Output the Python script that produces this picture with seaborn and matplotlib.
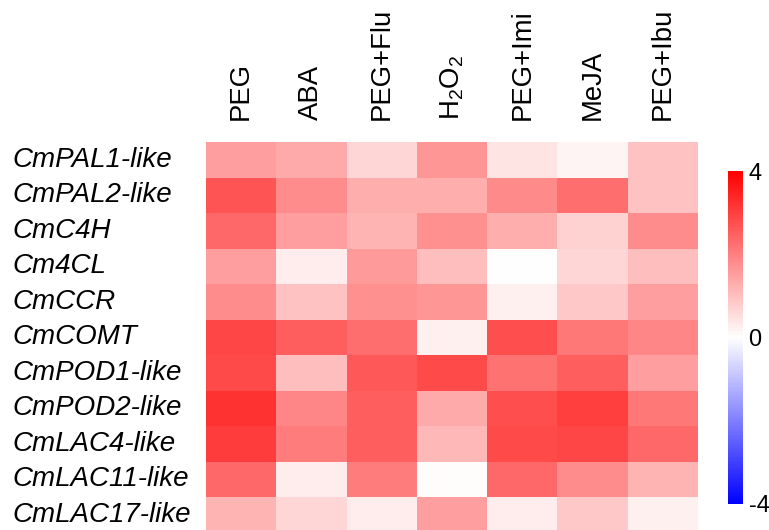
import numpy as np
import pandas as pd
import seaborn as sns
import matplotlib
matplotlib.use("Agg")
import matplotlib.pyplot as plt
from matplotlib.colors import LinearSegmentedColormap

treatments = ["PEG", "ABA", "PEG+Flu", "H$_\\mathregular{2}$O$_\\mathregular{2}$", "PEG+Imi", "MeJA", "PEG+Ibu"]
genes = ["CmPAL1-like", "CmPAL2-like", "CmC4H", "Cm4CL", "CmCCR", "CmCOMT",
         "CmPOD1-like", "CmPOD2-like", "CmLAC4-like", "CmLAC11-like", "CmLAC17-like"]

CmPAL1_like  = [1.50, 1.33, 0.63, 1.65, 0.42, 0.16, 0.94]
CmPAL2_like  = [2.67, 1.80, 1.25, 1.25, 1.83, 2.27, 0.94]
CmC4H        = [2.35, 1.50, 1.18, 1.73, 1.25, 0.70, 1.80]
Cm4CL        = [1.50, 0.31, 1.57, 1.02, -0.03, 0.63, 1.02]
CmCCR        = [1.80, 0.94, 1.73, 1.65, 0.24, 0.86, 1.50]
CmCOMT       = [2.90, 2.50, 2.27, 0.24, 2.75, 2.10, 1.88]
CmPOD1_like  = [2.82, 1.02, 2.62, 2.82, 2.20, 2.50, 1.50]
CmPOD2_like  = [3.20, 1.88, 2.50, 1.33, 2.75, 3.03, 2.10]
CmLAC4_like  = [3.06, 2.04, 2.50, 1.10, 2.82, 2.90, 2.35]
CmLAC11_like = [2.35, 0.31, 2.04, 0.05, 2.35, 1.80, 1.18]
CmLAC17_like = [1.18, 0.63, 0.31, 1.50, 0.31, 0.86, 0.24]

data = pd.DataFrame([CmPAL1_like, CmPAL2_like, CmC4H, Cm4CL, CmCCR, CmCOMT,
                     CmPOD1_like, CmPOD2_like, CmLAC4_like, CmLAC11_like, CmLAC17_like],
                    index=genes, columns=treatments)

sns.set_style("white")
plt.rcParams['font.family'] = ['Liberation Sans', 'DejaVu Sans']
plt.rcParams['mathtext.fontset'] = 'custom'
plt.rcParams['mathtext.rm'] = 'Liberation Sans'
plt.rcParams['mathtext.it'] = 'Liberation Sans:italic'
plt.rcParams['text.color'] = 'black'
plt.rcParams['xtick.color'] = 'black'
plt.rcParams['ytick.color'] = 'black'
plt.rcParams['xtick.labelcolor'] = 'black'
plt.rcParams['ytick.labelcolor'] = 'black'

cmap = LinearSegmentedColormap.from_list("bwr_custom", ["#0000ff", "#ffffff", "#ff0000"])

fig = plt.figure(figsize=(7.69, 5.30), dpi=100)
W, H = 769, 530
ax = fig.add_axes([206 / W, 1 - 532.6 / H, (698 - 206) / W, (532.6 - 142) / H])
cax = fig.add_axes([728 / W, 1 - 504 / H, 15 / W, (504 - 171) / H])

sns.heatmap(data, ax=ax, cbar_ax=cax, cmap=cmap, vmin=-4, vmax=4,
            linewidths=0, cbar_kws={"ticks": [-4, 0, 4]})

ax.xaxis.tick_top()
ax.set_xlabel("")
ax.set_ylabel("")
ax.tick_params(axis='both', length=0)
ax.tick_params(axis='x', pad=16)
ax.set_xticklabels(treatments, rotation=90, fontsize=19.8, ha='center', va='bottom', color='black')
ax.set_yticklabels(genes, rotation=0, fontsize=20, style='italic', ha='left', color='black')
ax.tick_params(axis='y', pad=194 * 72 / 100)

cbar = ax.collections[0].colorbar
cbar.outline.set_visible(False)
cax.tick_params(length=0, labelsize=17, pad=4, labelcolor='black')
cax.set_yticklabels(["-4", "0", "4"], color='black')

fig.savefig("out.png", dpi=100)
